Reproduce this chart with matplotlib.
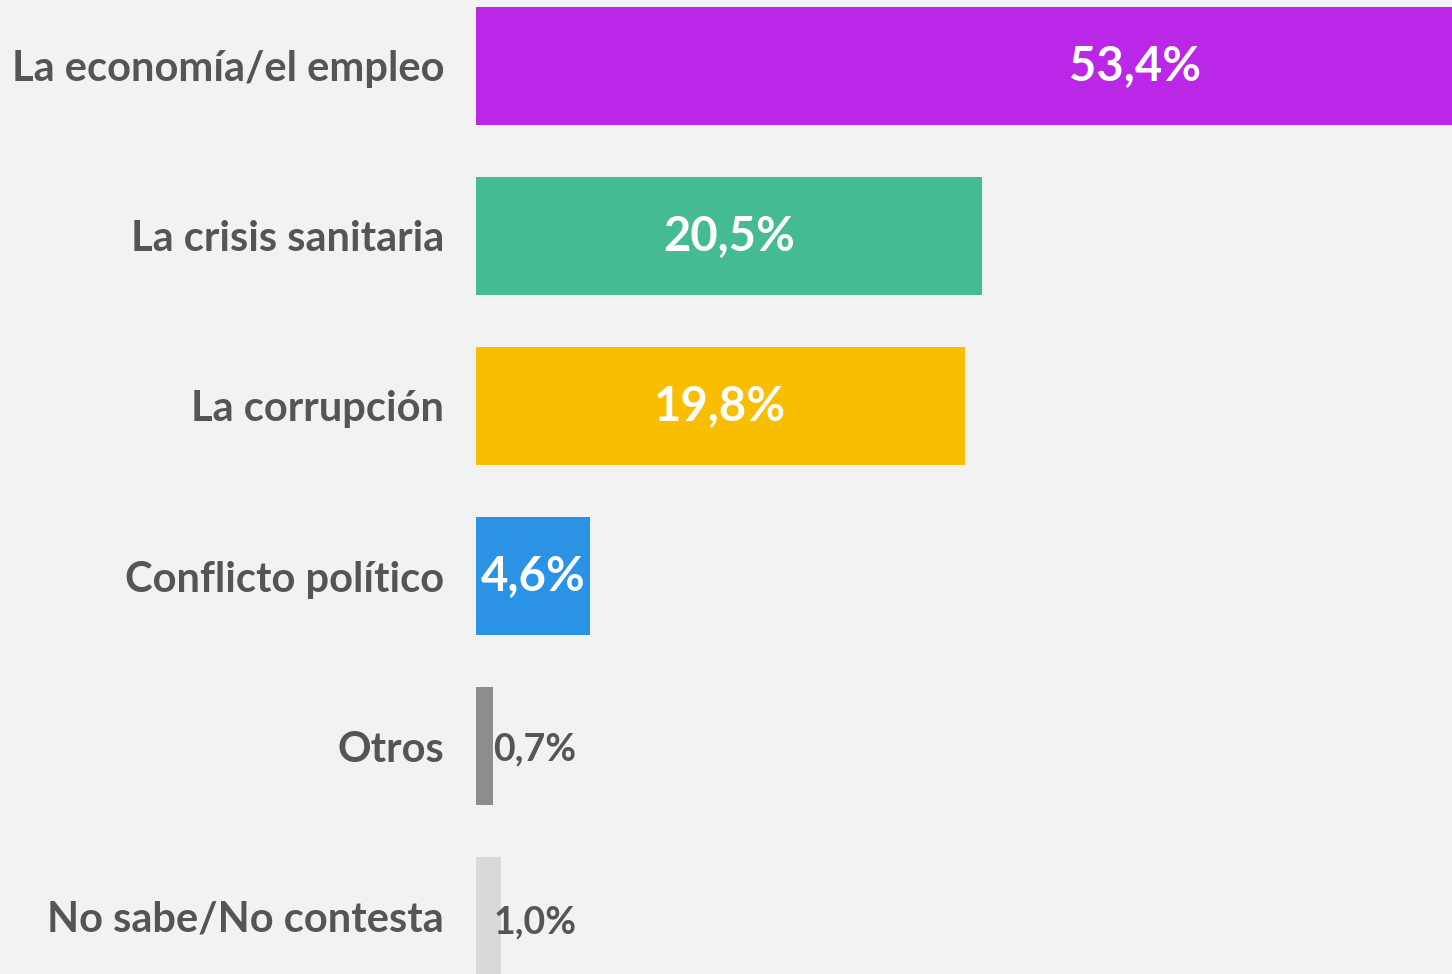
import matplotlib
matplotlib.use("Agg")
import matplotlib.pyplot as plt

categorias = ['La economía/el empleo', 'La crisis sanitaria', 'La corrupción',
              'Conflicto político', 'Otros', 'No sabe/No contesta']
valores = [53.4, 20.5, 19.8, 4.6, 0.7, 1.0]
etiquetas = ['53,4%', '20,5%', '19,8%', '4,6%', '0,7%', '1,0%']
colores = ['#bb27e6', '#45bb94', '#f9be00', '#2a93e6', '#8c8c8c', '#d9d9d9']

plt.rcParams['font.family'] = ['Lato', 'DejaVu Sans']
fondo = '#f2f2f2'
gris = '#555555'

fig = plt.figure(figsize=(14.52, 9.74), dpi=100, facecolor=fondo)
ax = fig.add_axes([476 / 1452, 0, 1 - 476 / 1452, 1])
ax.set_facecolor(fondo)

pos = list(range(len(categorias)))
ax.barh(pos, valores, height=0.694, color=colores)

for i, (v, t) in enumerate(zip(valores, etiquetas)):
    if v > 3:
        ax.text(v / 2, i, t, ha='center', va='center', color='white',
                fontsize=34, fontweight='bold')
    else:
        ax.text(0.7, i + 0.02 * (i - 3), t, ha='left', va='center', color=gris,
                fontsize=27, fontweight='bold')

ax.set_xlim(0, 39.55)
ax.set_ylim(5.341, -0.388)
ax.set_yticks(pos)
ax.set_yticklabels(categorias, fontsize=30, fontweight='bold', color=gris)
ax.tick_params(axis='y', length=0, pad=23)
ax.set_xticks([])
for s in ax.spines.values():
    s.set_visible(False)

fig.savefig('out.png', dpi=100, facecolor=fondo)
